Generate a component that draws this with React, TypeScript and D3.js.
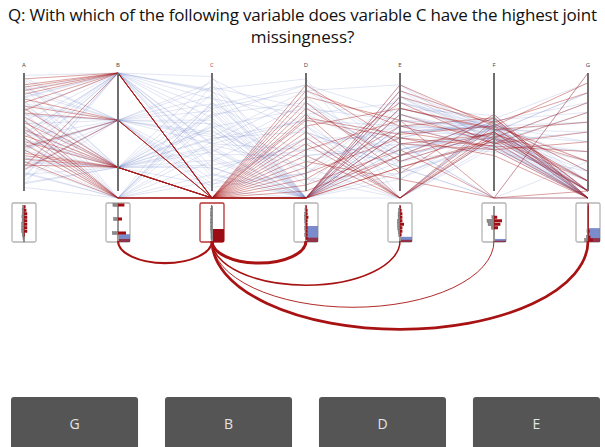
import React from "react";
import * as d3 from "d3";

const variables = ["A", "B", "C", "D", "E", "F", "G"];
const focusVar = "C";
const answerOptions = ["G", "B", "D", "E"];
const questionLines = [
  "Q: With which of the following variable does variable C have the highest joint",
  "missingness?",
];

// one row per record: A B C D E F G, "-" = missing
// B is a category 0-2, G a category 0-12, the others 0-100
const missingFocusRows = [
  "68 0 - 62 48 55 9",
  "95 0 - 80 60 45 3",
  "90 0 - 45 - 55 -",
  "88 0 - - 30 62 12",
  "85 0 - 20 75 40 6",
  "82 0 - 65 - 50 11",
  "78 1 - 10 55 35 -",
  "75 0 - - 85 58 2",
  "72 1 - 90 40 48 9",
  "70 2 - 30 - 60 12",
  "66 1 - - 20 42 -",
  "63 2 - 55 70 52 5",
  "60 - - 5 35 - 12",
  "58 2 - - 50 38 8",
  "55 - - 75 15 65 -",
  "52 2 - 40 - 45 11",
  "50 - - - 90 55 1",
  "47 2 - 15 45 30 -",
  "45 - - 70 25 50 12",
  "42 2 - - 65 40 4",
  "40 - - 25 10 - -",
  "37 1 - - 80 57 10",
  "35 - - 50 - 47 12",
  "32 2 - - 40 35 7",
  "30 2 - 85 55 62 -",
  "27 2 - - 20 44 12",
  "25 - - 35 60 - 0",
  "22 2 - 0 30 50 -",
  "20 0 - - 70 53 11",
  "18 1 - 60 45 38 -",
];

const otherRows = [
  "98 0 85 - 70 50 -",
  "94 1 40 60 - 45 3",
  "91 2 20 - 55 52 -",
  "89 - 75 30 40 - 9",
  "86 0 55 - 25 60 12",
  "84 1 10 - 80 38 -",
  "81 2 65 75 35 48 7",
  "79 0 30 - 60 55 5",
  "77 - 90 - 15 42 -",
  "74 1 50 20 - 58 11",
  "71 2 5 45 45 35 -",
  "69 0 70 85 90 50 2",
  "67 - 35 - 30 62 -",
  "64 1 80 - 65 44 8",
  "62 2 45 50 20 - -",
  "59 0 15 - 50 56 12",
  "57 1 60 - - 40 -",
  "54 - 25 65 75 52 6",
  "51 2 95 55 10 47 -",
  "49 0 40 35 55 60 4",
  "46 1 0 - 40 33 10",
  "44 2 55 - 85 53 -",
  "41 - 75 10 - 45 12",
  "39 0 20 - 35 58 -",
  "36 1 88 70 60 41 4",
  "34 2 33 75 25 50 2",
  "31 0 62 - 70 64 11",
  "29 - 8 45 - 37 -",
  "26 1 48 - 50 55 7",
  "24 2 72 90 30 46 12",
  "21 0 28 - 80 52 12",
  "19 1 92 10 15 39 -",
  "16 - 58 25 45 61 1",
  "14 2 38 - 65 43 -",
  "11 0 12 55 - 57 9",
  "9 1 68 - 35 49 -",
  "6 2 82 - 55 36 12",
  "3 - 42 80 20 - -",
  "93 2 52 - 75 54 11",
  "87 1 18 40 50 47 10",
  "80 0 78 65 30 59 3",
  "73 2 36 - 85 41 -",
  "65 1 3 15 60 53 12",
  "56 - 66 - 40 45 -",
  "48 0 86 95 - 57 10",
  "43 2 22 35 25 38 11",
  "38 1 57 5 70 51 5",
  "33 0 97 - 45 63 -",
  "28 2 44 60 55 44 12",
  "23 - 14 - 10 56 -",
  "17 1 74 - 90 40 8",
  "12 0 31 30 35 52 12",
  "7 2 63 90 65 48 11",
  "96 1 46 85 40 - 0",
  "60 2 26 - 50 55 -",
  "45 0 84 50 20 42 6",
  "35 1 6 15 75 58 -",
  "25 2 54 70 30 46 12",
  "15 - 71 - 55 50 -",
  "5 0 39 20 80 44 9",
];

type Row = (number | null)[];
const parse = (s: string): Row => s.split(" ").map((t) => (t === "-" ? null : +t));

const W = 605;
const H = 447;
const yTop = 73;
const yBot = 191;
const yMiss = 198;
const boxTop = 203;
const boxBot = 242;
const BLUE = "#6d80c6";
const RED = "#a81616";

const App = () => {
  const red = missingFocusRows.map(parse);
  const blue = otherRows.map(parse);
  const all = [...blue, ...red];
  const fi = variables.indexOf(focusVar);

  const x = d3.scalePoint<string>().domain(variables).range([24, 588]);
  const yFor = (v: string) => {
    if (v === "B") return d3.scaleLinear().domain([0, 2.5]).range([yTop, yBot]);
    if (v === "G") return d3.scaleLinear().domain([0, 12]).range([yTop, yBot]);
    return d3.scaleLinear().domain([0, 100]).range([yBot, yTop]);
  };
  const yScales = variables.map(yFor);
  const line = d3.line<Row[number]>()
    .x((_, i) => x(variables[i]) as number)
    .y((d, i) => (d == null ? yMiss : yScales[i](d)));

  // mini summaries under each axis
  const miniY = d3.scaleLinear().domain([yTop, yBot]).range([boxTop + 2, boxBot - 2]);
  const binsFor = (i: number, rows: Row[]) => {
    const v = variables[i];
    const vals = rows.map((r) => r[i]).filter((d) => d != null) as number[];
    if (v === "B" || v === "G") {
      const g = d3.rollup(vals, (a) => a.length, (d) => d);
      return Array.from(g, ([k, n]) => ({ y: miniY(yScales[i](k)), n }));
    }
    const b = d3.bin().domain([0, 100]).thresholds(14)(vals);
    return b.filter((d) => d.length).map((d) => ({ y: miniY(yScales[i](((d.x0 as number) + (d.x1 as number)) / 2)), n: d.length }));
  };
  const allBins = variables.map((_, i) => binsFor(i, all));
  const redBins = variables.map((_, i) => binsFor(i, red));
  const greyW = d3.scaleLinear().domain([0, d3.max(allBins.flat(), (d) => d.n) as number]).range([0, 7]);
  const redW = d3.scaleLinear().domain([0, d3.max(redBins.flat(), (d) => d.n) as number]).range([0, 8]);

  const missRate = variables.map((_, i) => all.filter((r) => r[i] == null).length / all.length);
  const jointCount = variables.map((_, i) => red.filter((r) => r[i] == null).length);
  const jointRate = jointCount.map((n) => n / all.length);
  const rateH = d3.scaleLinear().domain([0, 1]).range([0, boxBot - boxTop]);
  const arcW = d3.scaleLinear()
    .domain([0, d3.max(jointCount.filter((_, i) => i !== fi)) as number])
    .range([0, 3]);

  const btn = d3.scaleBand<string>().domain(answerOptions).range([11, 600]).paddingInner(0.175).paddingOuter(0);
  const cx = x(focusVar) as number;

  return (
    <svg width={W} height={H} style={{ position: "absolute", left: 0, top: 0, background: "#fff" }}
      fontFamily="'Open Sans', sans-serif">
      {questionLines.map((t, i) => (
        <text key={i} x={W / 2} y={21 + i * 22} textAnchor="middle" fontSize={17} fill="#111"
          textLength={i === 0 ? 589 : undefined} lengthAdjust="spacing">{t}</text>
      ))}

      {blue.map((r, i) => (
        <path key={"b" + i} d={line(r) as string} fill="none" stroke={BLUE} strokeOpacity={0.2} strokeWidth={1} />
      ))}
      {red.map((r, i) => (
        <path key={"r" + i} d={line(r) as string} fill="none" stroke={RED} strokeOpacity={0.4} strokeWidth={1} />
      ))}

      {variables.map((v, i) => {
        const ax = x(v) as number;
        const isFocus = v === focusVar;
        return (
          <g key={v}>
            <text x={ax} y={67} textAnchor="middle" fontSize={6} fill={isFocus ? "#c8403a" : "#444"}>{v}</text>
            <line x1={ax} x2={ax} y1={yTop} y2={yBot} stroke="#6f6f6f" strokeWidth={2} />
            <rect x={ax - 12} y={boxTop} width={24} height={boxBot - boxTop} rx={1.5} fill="#fff"
              stroke={isFocus ? "#b83232" : "#b4b4b4"} strokeWidth={1.3} />
            <rect x={ax + 1} y={boxBot - rateH(missRate[i])} width={11} height={rateH(missRate[i])}
              fill={BLUE} fillOpacity={0.9} />
            <rect x={ax + 1} y={boxBot - rateH(jointRate[i])} width={11} height={rateH(jointRate[i])}
              fill="#9c0c14" fillOpacity={isFocus ? 1 : 0.7} />
            <line x1={ax} x2={ax} y1={boxTop + 3} y2={boxBot} stroke="#333" strokeWidth={1} />
            {allBins[i].map((b, j) => (
              <rect key={"g" + j} x={ax - greyW(b.n)} y={b.y - 1.5} width={greyW(b.n)} height={3}
                fill="#8a8a8a" stroke="#666" strokeWidth={0.4} />
            ))}
            {redBins[i].map((b, j) => (
              <rect key={"rb" + j} x={ax} y={b.y - 1.5} width={redW(b.n)} height={3} fill="#a00d12" />
            ))}
          </g>
        );
      })}

      {variables.map((v, i) => {
        if (v === focusVar || jointCount[i] === 0) return null;
        const tx = x(v) as number;
        const x1 = Math.min(cx, tx);
        const x2 = Math.max(cx, tx);
        const rx = (x2 - x1) / 2;
        const ry = rx * 0.47;
        return (
          <path key={"arc" + v} d={`M${x1},${boxBot - 1} A${rx},${ry} 0 0 0 ${x2},${boxBot - 1}`}
            fill="none" stroke="#a81212" strokeWidth={arcW(jointCount[i])} />
        );
      })}

      {answerOptions.map((o) => (
        <g key={o}>
          <rect x={btn(o)} y={397} width={btn.bandwidth()} height={60} rx={3} fill="#555" />
          <text x={(btn(o) as number) + btn.bandwidth() / 2} y={429} textAnchor="middle" fontSize={14} fill="#e4e4e4">{o}</text>
        </g>
      ))}
    </svg>
  );
};

export default App;
